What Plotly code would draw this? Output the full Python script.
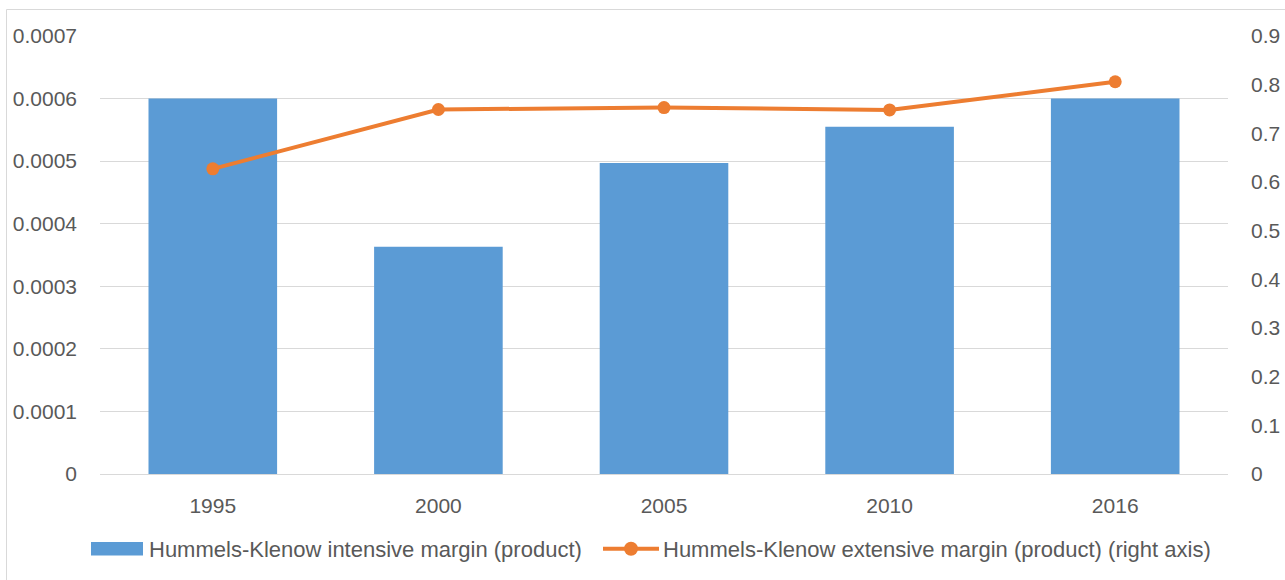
import plotly.graph_objects as go

# Data
years = ["1995", "2000", "2005", "2010", "2016"]
intensive_margin = [0.000600, 0.000363, 0.000497, 0.000555, 0.000600]
extensive_margin = [0.627, 0.749, 0.753, 0.748, 0.806]

intensive_name = "Hummels-Klenow intensive margin (product)"
extensive_name = "Hummels-Klenow extensive margin (product) (right axis)"

BLUE = "#5B9BD5"
ORANGE = "#ED7D31"
GRID = "#D9D9D9"
TEXT = "#595959"
FONT = "Liberation Sans, Arial, sans-serif"

W, H = 1285, 580
ML, MR, MT, MB = 100, 57, 36, 106
PW, PH = W - ML - MR, H - MT - MB


def px(x):
    return (x - ML) / PW


def py(y):
    return (H - MB - y) / PH


fig = go.Figure()

fig.add_trace(go.Bar(
    x=years, y=intensive_margin, name=intensive_name,
    marker=dict(color=BLUE, line=dict(width=0)),
    width=0.57, showlegend=False,
))

fig.add_trace(go.Scatter(
    x=years, y=extensive_margin, name=extensive_name, yaxis="y2",
    mode="lines+markers",
    line=dict(color=ORANGE, width=4),
    marker=dict(color=ORANGE, size=13),
    showlegend=False,
))

shapes = [
    # outer chart frame
    dict(type="rect", xref="paper", yref="paper",
         x0=px(6.5), x1=px(1300), y0=py(600), y1=py(9.5),
         line=dict(color=GRID, width=1), fillcolor="rgba(0,0,0,0)", layer="below"),
    # legend swatches
    dict(type="rect", xref="paper", yref="paper",
         x0=px(91), x1=px(143), y0=py(555.5), y1=py(542),
         line=dict(width=0), fillcolor=BLUE),
    dict(type="line", xref="paper", yref="paper",
         x0=px(603), x1=px(659), y0=py(548.7), y1=py(548.7),
         line=dict(color=ORANGE, width=4)),
    dict(type="circle", xref="paper", yref="paper",
         x0=px(624), x1=px(638), y0=py(555.7), y1=py(541.7),
         line=dict(width=0), fillcolor=ORANGE),
]

annotations = [
    dict(text=intensive_name, xref="paper", yref="paper",
         x=px(147), y=py(549), xanchor="left", yanchor="middle",
         showarrow=False, font=dict(family=FONT, size=22, color=TEXT)),
    dict(text=extensive_name, xref="paper", yref="paper",
         x=px(661), y=py(549), xanchor="left", yanchor="middle",
         showarrow=False, font=dict(family=FONT, size=22, color=TEXT)),
]

fig.update_layout(
    width=W, height=H,
    margin=dict(l=ML, r=MR, t=MT, b=MB, autoexpand=False),
    paper_bgcolor="white", plot_bgcolor="white",
    font=dict(family=FONT, size=21, color=TEXT),
    xaxis=dict(
        type="category", showgrid=False, showline=True, linecolor=GRID,
        linewidth=1, ticks="", ticklabelstandoff=13, automargin=False,
        tickfont=dict(size=21, color=TEXT),
    ),
    yaxis=dict(
        range=[0, 0.0007], dtick=0.0001, tickformat=".4~f",
        showgrid=True, gridcolor=GRID, gridwidth=1, automargin=False,
        zeroline=False, showline=False, ticks="",
        ticklabelstandoff=22, tickfont=dict(size=21, color=TEXT),
    ),
    yaxis2=dict(
        range=[0, 0.9], dtick=0.1, tickformat=".1~f", automargin=False,
        overlaying="y", side="right", showgrid=False,
        zeroline=False, showline=False, ticks="",
        ticklabelstandoff=22, tickfont=dict(size=21, color=TEXT),
    ),
    shapes=shapes,
    annotations=annotations,
    showlegend=False,
)

fig.write_html("out.html")
